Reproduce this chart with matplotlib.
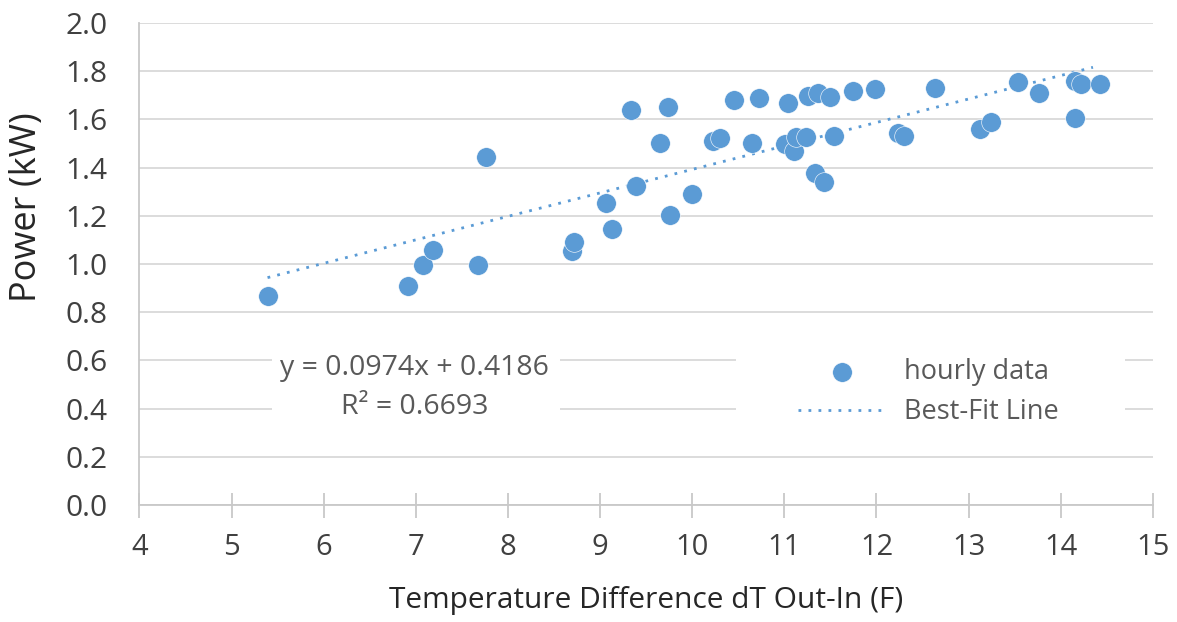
import matplotlib
matplotlib.use("Agg")
import matplotlib.pyplot as plt
from matplotlib.patches import Rectangle

# hourly data
dT = [5.39, 6.91, 7.08, 7.19, 7.67, 7.76, 8.69, 8.72, 9.06, 9.13,
      9.34, 9.39, 9.65, 9.74, 9.76, 10.00, 10.23, 10.30, 10.45, 10.65,
      10.72, 11.01, 11.04, 11.10, 11.13, 11.24, 11.26, 11.33, 11.37, 11.43,
      11.50, 11.54, 11.75, 11.98, 12.23, 12.30, 12.63, 13.12, 13.24, 13.54,
      13.76, 14.15, 14.15, 14.22, 14.43]
power = [0.868, 0.910, 0.996, 1.060, 0.996, 1.445, 1.054, 1.090, 1.253, 1.146,
         1.639, 1.325, 1.503, 1.653, 1.203, 1.289, 1.510, 1.524, 1.680, 1.503,
         1.690, 1.497, 1.667, 1.469, 1.526, 1.526, 1.697, 1.376, 1.711, 1.339,
         1.694, 1.531, 1.718, 1.725, 1.545, 1.531, 1.732, 1.560, 1.590, 1.754,
         1.708, 1.604, 1.761, 1.746, 1.746]

# trendline as printed on the chart
slope = 0.0974
intercept = 0.4186
r2 = 0.6693
fit_x = [5.39, 14.35]
fit_y = [slope * x + intercept for x in fit_x]

blue = '#5B9BD5'
plt.rcParams['font.family'] = ['Open Sans', 'DejaVu Sans']

fig = plt.figure(figsize=(11.77, 6.22), dpi=100)
ax = fig.add_axes([0.1185, 0.188, 0.861, 0.775])

ax.scatter(dT, power, s=200, color=blue, edgecolor='white', linewidth=0.4,
           zorder=3, label='hourly data')
ax.plot(fit_x, fit_y, color=blue, lw=2.0, ls=(0, (1, 2.6)),
        zorder=2.5, label='Best-Fit Line')

ax.set_xlim(4, 15)
ax.set_ylim(0, 2.0)
ax.set_xticks(range(4, 16))
ax.set_yticks([i / 5 for i in range(11)])
ax.yaxis.set_major_formatter(matplotlib.ticker.FormatStrFormatter('%.1f'))

ax.grid(axis='y', color='#d9d9d9', lw=1.3, zorder=0)
ax.set_axisbelow(True)
for s in ['top', 'right']:
    ax.spines[s].set_visible(False)
for s in ['left', 'bottom']:
    ax.spines[s].set_color('#c8c8c8')
    ax.spines[s].set_linewidth(1.3)

ax.tick_params(axis='x', direction='inout', length=18, width=1.3,
               color='#c8c8c8', labelsize=21, labelcolor='#404040', pad=11)
ax.tick_params(axis='y', length=0, labelsize=21.5, labelcolor='#404040', pad=23)

# white boxes behind the equation and the legend
ax.add_patch(Rectangle((5.44, 0.3), 3.13, 0.4, facecolor='white',
                       edgecolor='none', zorder=1))
ax.add_patch(Rectangle((10.47, 0.3), 4.23, 0.4, facecolor='white',
                       edgecolor='none', zorder=1))

ax.text(6.99, 0.568, f'y = {slope}x + {intercept}', ha='center', va='center',
        fontsize=20.5, color='#595959', zorder=4)
ax.text(6.99, 0.405, f'R² = {r2}', ha='center', va='center',
        fontsize=20.5, color='#595959', zorder=4)

leg = ax.legend(loc='center left', bbox_to_anchor=(0.636, 0.234),
                frameon=False, fontsize=19.5, handlelength=3.3,
                handletextpad=0.62, labelspacing=0.45, borderpad=0)
for t in leg.get_texts():
    t.set_color('#595959')

fig.text(0.023, 0.667, 'Power (kW)', rotation=90, ha='center', va='center',
         fontsize=26, color='#262626')
fig.text(0.549, 0.035, 'Temperature Difference dT Out-In (F)', ha='center',
         va='center', fontsize=21.5, color='#262626')

fig.savefig('out.png', dpi=100)
